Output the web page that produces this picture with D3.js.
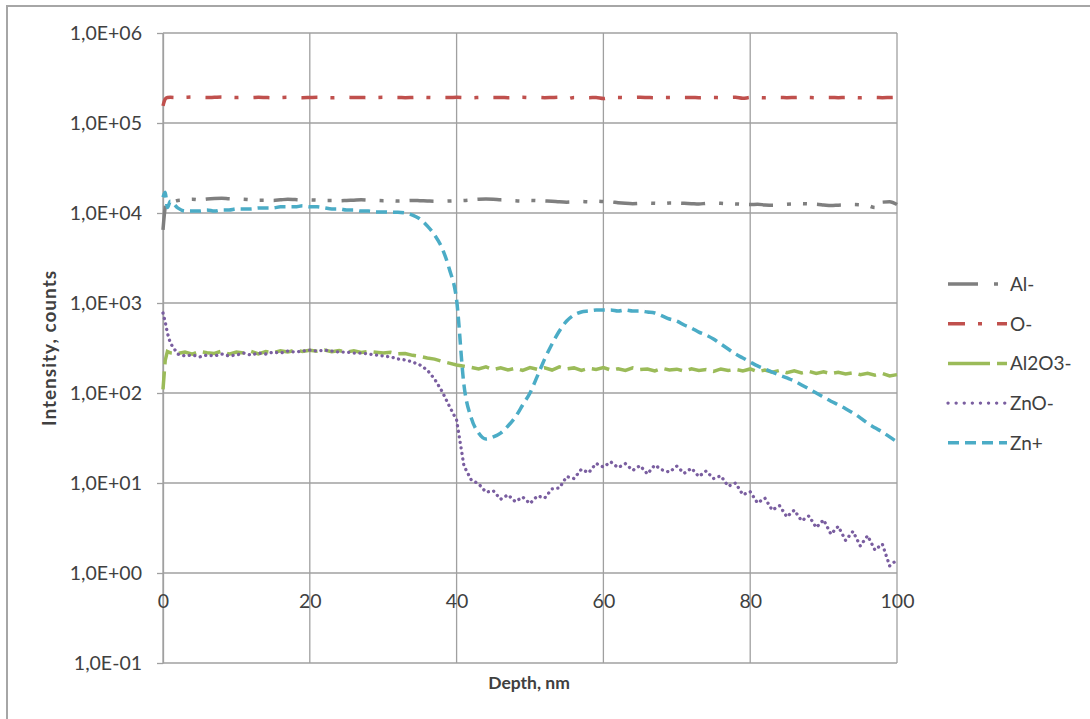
<!DOCTYPE html>
<html>
<head>
<meta charset="utf-8">
<script src="https://cdn.jsdelivr.net/npm/d3@7"></script>
<style>
  body { margin: 0; background: #fff; }
  text { font-family: Lato, 'Open Sans', sans-serif; fill: #404040; }
</style>
</head>
<body>
<main></main>
<script>
// chart data

const depth = [0, 0.3, 0.6,
  1, 2, 3, 4, 5, 6, 7, 8, 9, 10,
  11, 12, 13, 14, 15, 16, 17, 18, 19, 20,
  21, 22, 23, 24, 25, 26, 27, 28, 29, 30,
  31, 32, 33, 34, 35, 36, 37, 38, 39, 40,
  41, 42, 43, 44, 45, 46, 47, 48, 49, 50,
  51, 52, 53, 54, 55, 56, 57, 58, 59, 60,
  61, 62, 63, 64, 65, 66, 67, 68, 69, 70,
  71, 72, 73, 74, 75, 76, 77, 78, 79, 80,
  81, 82, 83, 84, 85, 86, 87, 88, 89, 90,
  91, 92, 93, 94, 95, 96, 97, 98, 99, 100];

const alMinus = [6500, 11500, 13500,
  13200, 13800, 14000, 14200, 14000, 14300, 14500, 14600, 14400, 14300,
  14200, 14000, 13900, 13900, 13800, 14000, 14200, 14100, 14000, 14000,
  13900, 13800, 13800, 13700, 13800, 13900, 14000, 13900, 13800, 13700,
  13700, 13600, 13700, 13800, 13700, 13600, 13500, 13500, 13600, 13700,
  13800, 14000, 14200, 14300, 14200, 14000, 13900, 13700, 13600, 13800,
  13700, 13600, 13500, 13300, 13200, 13300, 13400, 13300, 13500, 13400,
  13300, 13000, 12800, 12700, 12800, 12900, 12800, 12700, 12900, 12900,
  12800, 12700, 12600, 12800, 12900, 12800, 12700, 12600, 12500, 12400,
  12500, 12300, 12200, 12300, 12500, 12600, 12700, 12600, 12500, 12300,
  12100, 12200, 12300, 12400, 12300, 12100, 11500, 13200, 13300, 12400];

const oMinus = [155000, 185000, 192000,
  193000, 192000, 193000, 194000, 193000, 192000, 193000, 194000, 193000, 192000,
  193000, 192000, 193000, 192000, 191000, 192000, 193000, 192000, 191000, 192000,
  193000, 192000, 191000, 192000, 193000, 192000, 192000, 191000, 192000, 193000,
  192000, 192000, 191000, 192000, 193000, 192000, 191000, 192000, 192000, 193000,
  192000, 191000, 192000, 193000, 192000, 192000, 191000, 192000, 193000, 192000,
  192000, 191000, 192000, 193000, 186000, 192000, 192000, 191000, 192000, 187000,
  192000, 192000, 191000, 192000, 193000, 192000, 191000, 192000, 192000, 191000,
  192000, 192000, 191000, 192000, 192000, 191000, 192000, 193000, 188000, 192000,
  192000, 191000, 192000, 192000, 191000, 192000, 193000, 192000, 191000, 192000,
  192000, 191000, 192000, 192000, 191000, 192000, 192000, 191000, 192000, 193000];

const al2o3Minus = [110, 230, 290,
  280, 275, 285, 270, 290, 280, 275, 292, 270, 285,
  278, 290, 272, 288, 280, 295, 285, 300, 290, 298,
  292, 300, 288, 296, 285, 295, 282, 290, 284, 278,
  283, 272, 275, 262, 255, 245, 238, 225, 215, 205,
  198, 192, 185, 195, 182, 190, 180, 188, 178, 192,
  183, 190, 180, 195, 185, 190, 178, 188, 183, 192,
  180, 186, 178, 190, 182, 185, 176, 188, 180, 184,
  175, 186, 178, 182, 174, 185, 178, 183, 176, 185,
  172, 180, 170, 178, 168, 176, 167, 174, 165, 172,
  164, 170, 163, 168, 160, 166, 158, 165, 155, 160];

const znoMinus = [774, 615, 464,
  359, 271, 258, 264, 252, 264, 258, 271, 258, 264,
  278, 264, 278, 271, 285, 278, 292, 285, 292, 299,
  292, 299, 292, 285, 285, 278, 278, 271, 264, 258,
  252, 239, 233, 221, 205, 180, 143, 105, 71.7, 50,
  15.5, 10.8, 9.8, 7.9, 8.2, 6.6, 7.4, 6.2, 7.0, 5.9,
  7.2, 6.8, 8.6, 8.8, 11.8, 11.2, 14.2, 13.0, 16.5, 15.0,
  17.2, 14.8, 16.4, 13.8, 15.6, 12.6, 15.8, 14.0, 13.2, 15.4,
  12.8, 14.6, 11.8, 13.6, 11.2, 12.0, 9.2, 10.0, 7.4, 8.0,
  6.0, 6.8, 5.0, 5.6, 4.2, 5.0, 3.8, 4.3, 3.2, 3.9,
  2.7, 3.3, 2.3, 2.9, 2.0, 2.6, 1.8, 2.1, 1.2, 1.4];

const znPlus = [15000, 17000, 11500,
  13500, 11400, 10500, 10500, 10500, 10800, 10500, 10800, 10800, 11100,
  11100, 11100, 11400, 11400, 11400, 11700, 11700, 11700, 12000, 11700,
  11700, 11400, 11100, 11100, 10800, 10800, 10500, 10500, 10260, 10260,
  10200, 10200, 10000, 9500, 8600, 7200, 5700, 4100, 2400, 1080,
  123, 52.7, 35.9, 30.8, 32.5, 35.9, 43, 54, 73.6, 100,
  154, 239, 350, 489, 631, 736, 794, 815, 836, 836,
  836, 815, 836, 815, 815, 794, 774, 718, 664, 631,
  570, 527, 475, 440, 398, 350, 308, 271, 245, 221,
  200, 185, 171, 158, 147, 136, 123, 111, 100, 90,
  81, 74, 67, 60, 53, 46, 41, 37, 32.5, 28.6];

const seriesNames = ['Al-', 'O-', 'Al2O3-', 'ZnO-', 'Zn+'];
const xTicks = [0, 20, 40, 60, 80, 100];
const yTicks = [0.1, 1, 10, 100, 1000, 10000, 100000, 1000000];

// line styles, one per series (Excel-like dash types)
const styles = [
  { values: alMinus, color: '#7f7f7f', width: 3.5, dash: '24 14 4 12 4 10', legendDash: '30 16 4 30', cap: 'butt', curve: d3.curveMonotoneX },
  { values: oMinus, color: '#c0504d', width: 3.5, dash: '16 13 4 15', legendDash: '17 13 4 15', cap: 'butt', curve: d3.curveMonotoneX },
  { values: al2o3Minus, color: '#9bbb59', width: 3.5, dash: '18 7', legendDash: '42 7', cap: 'butt', curve: d3.curveLinear },
  { values: znoMinus, color: '#7a5ea0', width: 3.3, dash: '0.1 5.5', legendDash: '0.1 8', cap: 'round', curve: d3.curveLinear },
  { values: znPlus, color: '#4bacc6', width: 3.5, dash: '11 6', legendDash: '11 6', cap: 'butt', curve: d3.curveMonotoneX },
];

const w = 1090;
const h = 719;
const plotLeft = 163;
const plotRight = 897;
const plotTop = 33;
const plotBottom = 663;

const svg = d3.select('main').append('svg').attr('width', w).attr('height', h);

// outer chart frame (right and bottom edges fall outside the picture)
svg
  .append('rect')
  .attr('x', 7)
  .attr('y', 6)
  .attr('width', 1200)
  .attr('height', 800)
  .attr('fill', '#fff')
  .attr('stroke', '#a6a6a6')
  .attr('stroke-width', 2);

const x = d3.scaleLinear().domain([0, 100]).range([plotLeft, plotRight]);
const y = d3.scaleLog().domain([0.1, 1000000]).range([plotBottom, plotTop]);

const fmtE = (v) => {
  const e = Math.round(Math.log10(v));
  return `1,0E${e < 0 ? '-' : '+'}${String(Math.abs(e)).padStart(2, '0')}`;
};

// gridlines
svg
  .append('g')
  .selectAll('line')
  .data(yTicks)
  .enter()
  .append('line')
  .attr('x1', plotLeft)
  .attr('x2', plotRight)
  .attr('y1', (d) => y(d))
  .attr('y2', (d) => y(d))
  .attr('stroke', '#a0a0a0')
  .attr('stroke-width', 1.3);

svg
  .append('g')
  .selectAll('line')
  .data(xTicks)
  .enter()
  .append('line')
  .attr('x1', (d) => x(d))
  .attr('x2', (d) => x(d))
  .attr('y1', plotTop)
  .attr('y2', plotBottom)
  .attr('stroke', '#a0a0a0')
  .attr('stroke-width', 1.3);

// y axis
const yAxis = svg
  .append('g')
  .attr('transform', `translate(${plotLeft},0)`)
  .call(d3.axisLeft(y).tickValues(yTicks).tickFormat(fmtE).tickSizeInner(6).tickSizeOuter(0).tickPadding(15));

yAxis.select('.domain').attr('stroke', '#a0a0a0').attr('stroke-width', 1.3);
yAxis.selectAll('.tick line').attr('stroke', '#a0a0a0').attr('stroke-width', 1.3);
yAxis.selectAll('.tick text').style('font-size', '19.5px').attr('fill', '#404040');

// x axis crosses the log axis at 1
const xAxis = svg
  .append('g')
  .attr('transform', `translate(0,${y(1)})`)
  .call(d3.axisBottom(x).tickValues(xTicks).tickSize(0).tickPadding(21));

xAxis.select('.domain').remove();
xAxis.selectAll('.tick text').style('font-size', '19.5px').attr('fill', '#404040');

// axis titles
svg
  .append('text')
  .attr('x', 529)
  .attr('y', 689)
  .attr('text-anchor', 'middle')
  .style('font-size', '17.5px')
  .style('font-weight', 'bold')
  .text('Depth, nm');

svg
  .append('text')
  .attr('transform', 'translate(56,348) rotate(-90)')
  .attr('text-anchor', 'middle')
  .style('font-size', '19px')
  .style('letter-spacing', '1px')
  .style('font-weight', 'bold')
  .text('Intensity, counts');

// series lines
const line = (s) =>
  d3
    .line()
    .x((d, i) => x(depth[i]))
    .y((d) => y(d))
    .curve(s.curve)(s.values);

svg
  .append('g')
  .selectAll('path')
  .data(styles)
  .enter()
  .append('path')
  .attr('d', (d) => line(d))
  .attr('fill', 'none')
  .attr('stroke', (d) => d.color)
  .attr('stroke-width', (d) => d.width)
  .attr('stroke-dasharray', (d) => d.dash)
  .attr('stroke-linecap', (d) => d.cap);

// legend
const legend = svg
  .append('g')
  .selectAll('g')
  .data(styles)
  .enter()
  .append('g')
  .attr('transform', (d, i) => `translate(948,${284 + i * 39.7})`);

legend
  .append('line')
  .attr('x1', 0)
  .attr('x2', 59)
  .attr('stroke', (d) => d.color)
  .attr('stroke-width', (d) => d.width)
  .attr('stroke-dasharray', (d) => d.legendDash)
  .attr('stroke-linecap', (d) => d.cap);

legend
  .append('text')
  .attr('x', 62)
  .attr('y', 7)
  .style('font-size', '19px')
  .text((d, i) => seriesNames[i]);
</script>
</body>
</html>
